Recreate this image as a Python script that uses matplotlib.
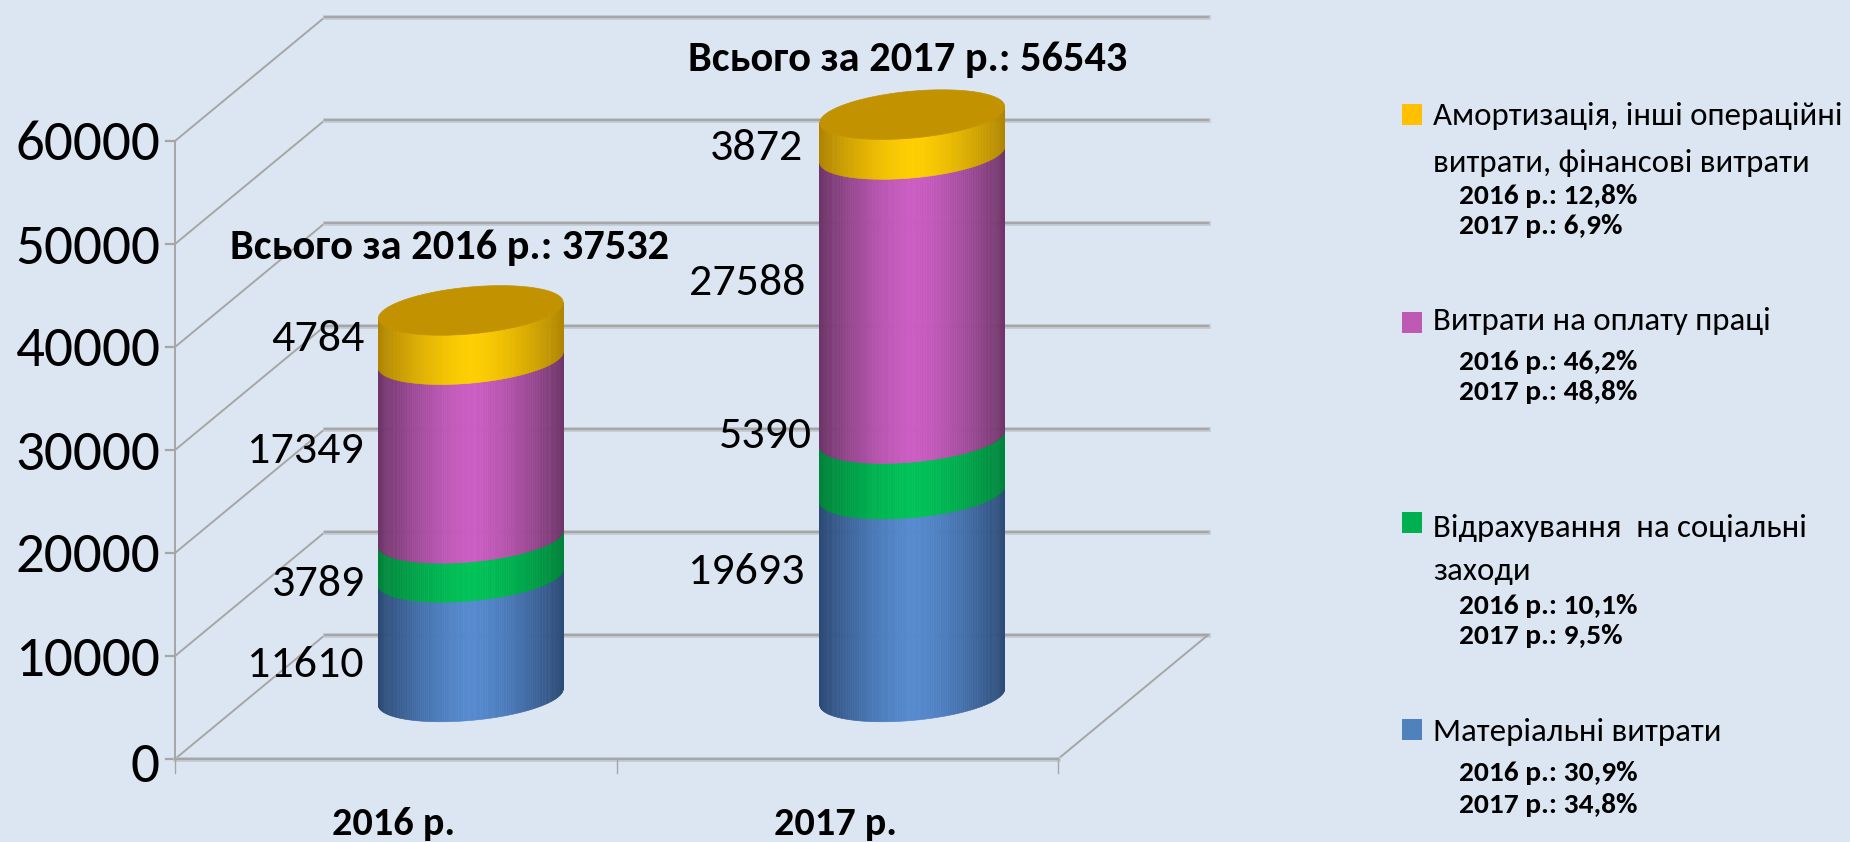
import numpy as np
import matplotlib
matplotlib.use('Agg')
import matplotlib.pyplot as plt
from matplotlib.collections import PolyCollection
from matplotlib.colors import to_rgb
from matplotlib.patches import Polygon, Rectangle

# data
years = ['2016 р.', '2017 р.']
materials = [11610, 19693]
social = [3789, 5390]
labour = [17349, 27588]
other = [4784, 3872]
totals = [37532, 56543]
y_ticks = [0, 10000, 20000, 30000, 40000, 50000, 60000]

legend_names = [
    ['Амортизація, інші операційні', 'витрати, фінансові витрати'],
    ['Витрати на оплату праці'],
    ['Відрахування  на соціальні', 'заходи'],
    ['Матеріальні витрати'],
]
shares_2016 = ['12,8%', '46,2%', '10,1%', '30,9%']
shares_2017 = ['6,9%', '48,8%', '9,5%', '34,8%']

# styles
BG = '#DCE6F2'
GRID = '#A6A6A6'
# centre colour, edge colour, for each stacked series
BLUE = ('#558ACF', '#2C4A75')
GREEN = ('#00C257', '#00823A')
PURPLE = ('#CB5DC2', '#6E3568')
GOLD = ('#FFCE00', '#B08400')
CAP = '#C29200'
LEGEND_COLORS = ['#FFC000', '#BE59B4', '#00B050', '#4F81BD']
FONT = 'Carlito'

# layout: front face of the box in pixels, and the depth shift
W, H = 1850, 842
X0_PX, X2_PX = 175, 1058
Y0_PX, Y60_PX = 759, 141
PX_PER_CAT = (X2_PX - X0_PX) / 2
PX_PER_VAL = (Y0_PX - Y60_PX) / 60000
DEPTH_X = 150 / PX_PER_CAT
DEPTH_Y = 124 / PX_PER_VAL
RADIUS_X = 0.198
RADIUS_D = 0.2

fig = plt.figure(figsize=(W / 100, H / 100), dpi=100, facecolor=BG)
ax = fig.add_axes([0, 0, 1, 1])
ax.set_xlim(-X0_PX / PX_PER_CAT, (W - X0_PX) / PX_PER_CAT)
ax.set_ylim((Y0_PX - H) / PX_PER_VAL, Y0_PX / PX_PER_VAL)
ax.axis('off')

# overlay in pixels, for the text and the legend
px = fig.add_axes([0, 0, 1, 1], facecolor='none')
px.set_xlim(0, W)
px.set_ylim(H, 0)
px.axis('off')


def proj(cat, depth, value):
    return cat + depth * DEPTH_X, value + depth * DEPTH_Y


def draw_walls():
    for v in y_ticks:
        x1, y1 = proj(0, 1, v)
        x2, y2 = proj(2, 1, v)
        ax.plot([0, x1], [v, y1], color=GRID, lw=1.4, zorder=1)
        ax.plot([x1, x2], [y1, y2], color='#C4CAD2', lw=3.4, zorder=1)
        ax.plot([x1, x2], [y1, y2], color=GRID, lw=1.6, zorder=1.1)
        ax.plot([-9 / PX_PER_CAT, 0], [v, v], color=GRID, lw=1.6, zorder=1)
    # floor
    x1, y1 = proj(2, 1, 0)
    ax.plot([2, x1], [0, y1], color=GRID, lw=1.4, zorder=1)
    ax.plot([0, 2], [0, 0], color='#C4CAD2', lw=3.4, zorder=1)
    ax.plot([0, 2], [0, 0], color=GRID, lw=1.6, zorder=1.1)
    ax.plot([0, 0], [0, y_ticks[-1]], color=GRID, lw=1.4, zorder=1)
    for c in range(3):
        ax.plot([c, c], [0, -14 / PX_PER_VAL], color=GRID, lw=1.0, zorder=1)


def shade(colors, u):
    # brightest in the middle, falling off towards the edges
    f = 1 - abs(u) ** 1.5
    c, e = to_rgb(colors[0]), to_rgb(colors[1])
    return tuple(e[i] + (c[i] - e[i]) * f for i in range(3))


def rim(cat, value, t):
    return proj(cat + RADIUS_X * np.cos(t), 0.5 + RADIUS_D * np.sin(t), value)


def draw_cylinder(cat, segments):
    ox = RADIUS_D * DEPTH_X
    t_right = np.arctan2(ox, RADIUS_X)
    half = np.hypot(RADIUS_X, ox)
    ts = np.linspace(t_right, t_right - np.pi, 121)
    mid_x = cat + 0.5 * DEPTH_X
    bottom = 0
    for value, colors in segments:
        top = bottom + value
        polys, cols = [], []
        for a, b in zip(ts[:-1], ts[1:]):
            xa, ya = rim(cat, bottom, a)
            xb, yb = rim(cat, bottom, b)
            xc, yc = rim(cat, top, b)
            xd, yd = rim(cat, top, a)
            polys.append([(xa, ya), (xb, yb), (xc, yc), (xd, yd)])
            cols.append(shade(colors, ((xa + xb) / 2 - mid_x) / half))
        ax.add_collection(PolyCollection(polys, facecolors=cols, edgecolors=cols,
                                         linewidths=0.4, zorder=2))
        bottom = top
    tt = np.linspace(0, 2 * np.pi, 200)
    xs, ys = rim(cat, bottom, tt)
    ax.add_patch(Polygon(np.column_stack([xs, ys]), closed=True, fc=CAP, ec=CAP,
                         lw=0.5, zorder=3))


draw_walls()
for i in range(len(years)):
    draw_cylinder(i + 0.5, [(materials[i], BLUE), (social[i], GREEN),
                            (labour[i], PURPLE), (other[i], GOLD)])

# tick labels
for v in y_ticks:
    px.text(160, Y0_PX - v * PX_PER_VAL + (8 if v == 0 else 4), str(v), ha='right', va='center',
            fontsize=41, family=FONT, color='black')
for c, name in zip([394, 835], years):
    px.text(c, 824, name, ha='center', va='center', fontsize=29, fontweight='bold',
            family=FONT, color='black')

# value labels next to the cylinders
label_right = [[364, 365, 364, 365], [805, 812, 805, 803]]
label_y = [[665, 584, 451, 339], [572, 436, 283, 148]]
for i in range(2):
    for j, s in enumerate([materials, social, labour, other]):
        px.text(label_right[i][j], label_y[i][j], str(s[i]), ha='right', va='center',
                fontsize=33, family=FONT, color='black')

# totals
px.text(230, 248, f'Всього за 2016 р.: {totals[0]}', ha='left', va='center',
        fontsize=30.5, fontweight='bold', family=FONT, color='black', zorder=5)
px.text(688, 59, f'Всього за 2017 р.: {totals[1]}', ha='left', va='center',
        fontsize=30.5, fontweight='bold', family=FONT, color='black', zorder=5)

# legend, laid out by hand as in the source slide
square_top = [104, 312, 512, 719]
name_y = [[116, 163], [321], [528, 571], [732]]
share_y = [[196, 226], [362, 392], [606, 636], [773, 805]]
for k in range(4):
    px.add_patch(Rectangle((1402, square_top[k]), 20, 21, fc=LEGEND_COLORS[k], ec='none'))
    for line, y in zip(legend_names[k], name_y[k]):
        px.text(1433, y, line, ha='left', va='center', fontsize=23.7, family=FONT, color='black')
    px.text(1459, share_y[k][0], f'2016 р.: {shares_2016[k]}', ha='left', va='center',
            fontsize=21.2, fontweight='bold', family=FONT, color='black')
    px.text(1459, share_y[k][1], f'2017 р.: {shares_2017[k]}', ha='left', va='center',
            fontsize=21.2, fontweight='bold', family=FONT, color='black')

fig.savefig('out.png', dpi=100, facecolor=BG)
